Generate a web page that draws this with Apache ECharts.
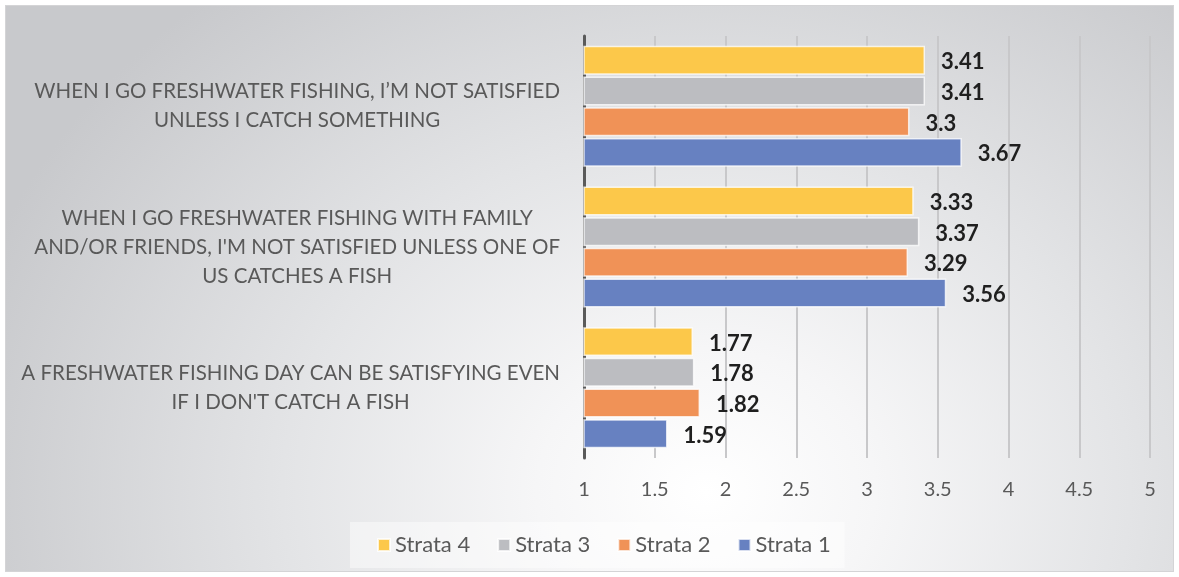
<!DOCTYPE html>
<html>
<head>
<meta charset="utf-8">
<script src="https://cdn.jsdelivr.net/npm/echarts@6/dist/echarts.min.js"></script>
<style>
  html, body { margin: 0; padding: 0; background: #ffffff; }
  #frame {
    position: absolute; left: 5px; top: 5px; width: 1167px; height: 565px;
    border: 1px solid #d4d4d6;
    background: radial-gradient(ellipse 66% 115% at 60% 86%, #ffffff 0%, #f6f6f7 22%, #e3e4e6 55%, #c8c9cc 100%);
  }
  #chart { position: absolute; left: 0; top: 0; width: 1179px; height: 577px; }
</style>
</head>
<body>
<div id="frame"></div>
<div id="chart"></div>
<script>
// Survey statements, top to bottom
const categories = [
  "WHEN I GO FRESHWATER FISHING, I\u2019M NOT SATISFIED\nUNLESS I CATCH SOMETHING",
  "WHEN I GO FRESHWATER FISHING WITH FAMILY\nAND/OR FRIENDS, I'M NOT SATISFIED UNLESS ONE OF\nUS CATCHES A FISH",
  "A FRESHWATER FISHING DAY CAN BE SATISFYING EVEN\nIF I DON'T CATCH A FISH"
];

// Mean agreement score per stratum, same order as categories
const strata4 = [3.41, 3.33, 1.77];
const strata3 = [3.41, 3.37, 1.78];
const strata2 = [3.30, 3.29, 1.82];
const strata1 = [3.67, 3.56, 1.59];

const seriesNames = ["Strata 4", "Strata 3", "Strata 2", "Strata 1"];
const xTicks = [1, 1.5, 2, 2.5, 3, 3.5, 4, 4.5, 5];

const colors = {
  "Strata 4": "#fcc84a",
  "Strata 3": "#bcbdc1",
  "Strata 2": "#f09257",
  "Strata 1": "#6781c1"
};

const chart = echarts.init(document.getElementById("chart"), null, { renderer: "canvas" });

function barSeries(name, values) {
  return {
    name: name,
    type: "bar",
    data: values,
    barGap: "6%",
    barCategoryGap: "14%",
    itemStyle: {
      color: colors[name],
      borderColor: "rgba(255,255,255,0.75)",
      borderWidth: 1.5
    },
    label: {
      show: true,
      position: "right",
      distance: 16,
      offset: [0, 2],
      fontFamily: "Lato",
      fontWeight: "bold",
      fontSize: 22,
      color: "#1f1f1f",
      formatter: (p) => String(p.value)
    }
  };
}

chart.setOption({
  backgroundColor: "transparent",
  animation: false,
  textStyle: { fontFamily: "Lato" },
  grid: { left: 584, right: 29, top: 36, bottom: 119, containLabel: false },
  legend: {
    data: seriesNames,
    left: 350,
    top: 522,
    padding: [12, 14, 12, 27],
    backgroundColor: "rgba(255,255,255,0.45)",
    itemWidth: 12,
    itemHeight: 12,
    itemGap: 27,
    icon: "rect",
    textStyle: { fontFamily: "Lato", fontSize: 22, color: "#595959" }
  },
  xAxis: {
    type: "value",
    min: xTicks[0],
    max: xTicks[xTicks.length - 1],
    interval: 0.5,
    axisLine: { show: false },
    axisTick: { show: false },
    splitLine: { show: true, lineStyle: { color: "#c8c8ca", width: 2 } },
    axisLabel: {
      margin: 22,
      fontFamily: "Lato",
      fontSize: 20,
      color: "#595959",
      formatter: (v) => String(v)
    }
  },
  yAxis: {
    type: "category",
    data: categories,
    inverse: true,
    axisLine: { show: true, lineStyle: { color: "#5a5a5a", width: 3 } },
    axisTick: { show: false },
    axisLabel: {
      margin: 24,
      formatter: (v) => v.split("\n").map((l) => "{c|" + l + "}").join("\n"),
      rich: {
        c: { align: "center", fontFamily: "Lato", fontSize: 20.5, lineHeight: 29, color: "#595959" }
      }
    }
  },
  series: [
    barSeries("Strata 4", strata4),
    barSeries("Strata 3", strata3),
    barSeries("Strata 2", strata2),
    barSeries("Strata 1", strata1)
  ]
});
</script>
</body>
</html>
